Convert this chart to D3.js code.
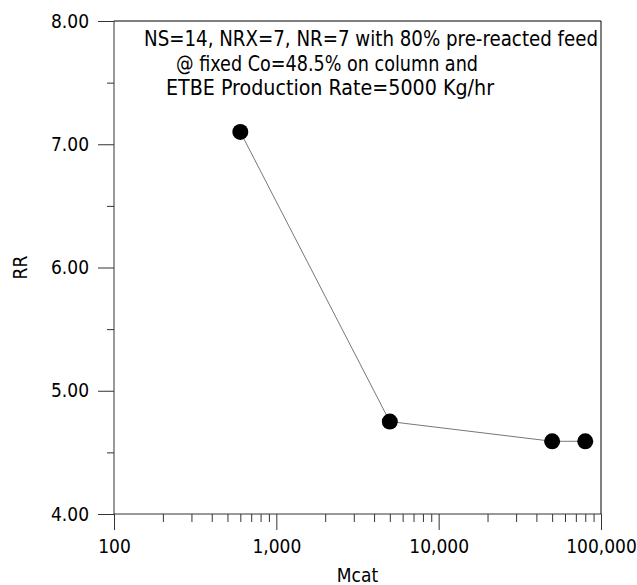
<!DOCTYPE html>
<html lang="en">
<head>
    <meta charset="UTF-8">
    <title>RR vs Mcat</title>
    <script src="https://d3js.org/d3.v7.min.js"></script>
    <style>
        body { margin: 0; background: #fff; }
        text { font-family: "DejaVu Sans Condensed", "DejaVu Sans", sans-serif; fill: #000; }
    </style>
</head>
<body>
    <div id="chart"></div>

    <script>
        // Data
        var mcat = [600, 5000, 50000, 80000];
        var rr = [7.10, 4.75, 4.59, 4.59];
        var xTicks = [100, 1000, 10000, 100000];
        var yTicks = [4, 5, 6, 7, 8];
        var notes = [
            "NS=14, NRX=7, NR=7 with 80% pre-reacted feed",
            "@ fixed Co=48.5% on column and",
            "ETBE Production Rate=5000 Kg/hr"
        ];

        var margin = {top: 21, right: 36, bottom: 71, left: 114};
        var width = 637 - margin.left - margin.right;
        var height = 585 - margin.top - margin.bottom;

        var svg = d3.select("#chart")
                    .append("svg")
                    .attr("width", 637)
                    .attr("height", 585)
                    .append("g")
                    .attr("transform", "translate(" + margin.left + "," + margin.top + ")");

        var x = d3.scaleLog().domain([100, 100000]).range([0, width]);
        var y = d3.scaleLinear().domain([4, 8]).range([height, 0]);

        // minor ticks
        var xMinor = [];
        for (var d = 100; d < 100000; d *= 10) {
            for (var k = 2; k <= 9; k++) xMinor.push(d * k);
        }
        var yMinor = [4.5, 5.5, 6.5, 7.5];

        svg.append("g")
           .attr("transform", "translate(0," + height + ")")
           .call(d3.axisBottom(x).tickValues(xMinor).tickSize(8).tickFormat(""))
           .call(function(g) { g.select(".domain").remove(); });

        svg.append("g")
           .attr("transform", "translate(0," + height + ")")
           .call(d3.axisBottom(x).tickValues(xTicks).tickSize(16).tickPadding(10)
                 .tickFormat(d3.format(",")))
           .call(function(g) {
               g.select(".domain").attr("d", "M0,0H" + width);
               g.selectAll("text").style("font-size", "19px");
           });

        svg.append("g")
           .call(d3.axisLeft(y).tickValues(yMinor).tickSize(7).tickFormat(""))
           .call(function(g) { g.select(".domain").remove(); });

        svg.append("g")
           .call(d3.axisLeft(y).tickValues(yTicks).tickSize(16).tickPadding(9)
                 .tickFormat(d3.format(".2f")))
           .call(function(g) {
               g.select(".domain").attr("d", "M0," + height + "V0");
               g.selectAll("text").style("font-size", "19px");
           });

        // frame: top and right
        svg.append("path")
           .attr("d", "M0,0H" + width + "V" + height)
           .attr("fill", "none")
           .attr("stroke", "#000");

        svg.selectAll(".tick line, .domain").attr("stroke", "#333");

        var line = d3.line()
                     .x(function(d, i) { return x(mcat[i]); })
                     .y(function(d, i) { return y(rr[i]); });

        svg.append("path")
           .datum(rr)
           .attr("d", line)
           .attr("fill", "none")
           .attr("stroke", "#777")
           .attr("stroke-width", 1);

        svg.selectAll("circle")
           .data(rr)
           .enter().append("circle")
           .attr("cx", function(d, i) { return x(mcat[i]); })
           .attr("cy", function(d) { return y(d); })
           .attr("r", 8)
           .attr("fill", "#000");

        // annotation
        var noteX = [30, 62, 52];
        var noteW = [454, 302, 328];
        svg.selectAll(".note")
           .data(notes)
           .enter().append("text")
           .attr("class", "note")
           .attr("x", function(d, i) { return noteX[i]; })
           .attr("y", function(d, i) { return 25 + i * 24.5; })
           .attr("textLength", function(d, i) { return noteW[i]; })
           .attr("lengthAdjust", "spacingAndGlyphs")
           .style("font-size", "21px")
           .text(function(d) { return d; });

        // axis titles
        svg.append("text")
           .attr("x", width / 2)
           .attr("y", height + 68)
           .attr("text-anchor", "middle")
           .style("font-size", "19px")
           .text("Mcat");

        svg.append("text")
           .attr("transform", "translate(-87," + (height / 2) + ") rotate(-90)")
           .attr("text-anchor", "middle")
           .style("font-size", "19px")
           .text("RR");
    </script>
</body>
</html>
